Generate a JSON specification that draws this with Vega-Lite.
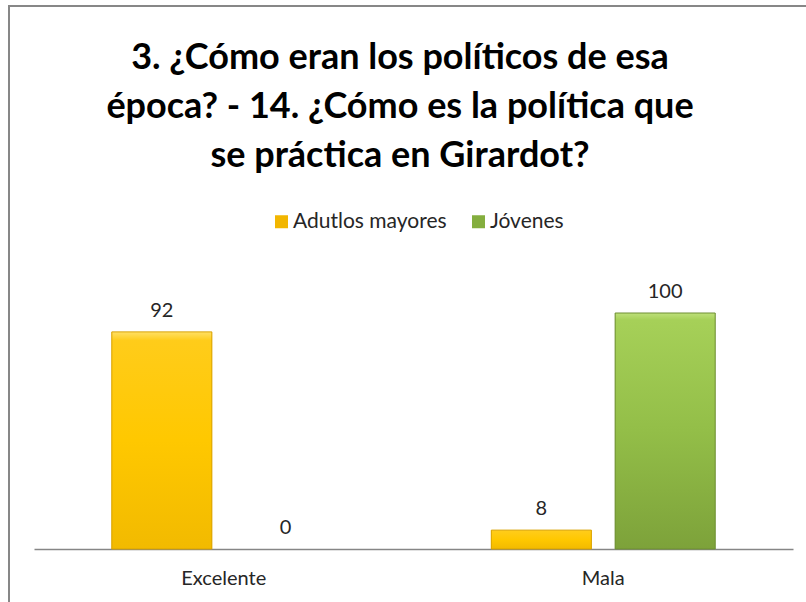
{
  "$schema": "https://vega.github.io/schema/vega-lite/v6.json",
  "autosize": "none",
  "width": 800,
  "height": 600,
  "padding": {"left": 9, "top": 6, "right": 0, "bottom": 0},
  "background": "white",
  "title": {
    "text": ["3. ¿Cómo eran los políticos de esa", "época? - 14. ¿Cómo es la política que", "se práctica en Girardot?"],
    "orient": "top",
    "anchor": "middle",
    "frame": "group",
    "baseline": "top",
    "offset": 0,
    "dy": 169,
    "dx": -9,
    "font": "Lato",
    "fontSize": 36,
    "fontWeight": "bold",
    "color": "#000000",
    "lineHeight": 49
  },
  "data": {
    "values": [
      {"categoria": "Excelente", "grupo": "Adutlos mayores", "valor": 92},
      {"categoria": "Excelente", "grupo": "Jóvenes", "valor": 0},
      {"categoria": "Mala", "grupo": "Adutlos mayores", "valor": 8},
      {"categoria": "Mala", "grupo": "Jóvenes", "valor": 100}
    ]
  },
  "encoding": {
    "x": {
      "field": "categoria",
      "type": "nominal",
      "sort": ["Excelente", "Mala"],
      "scale": {"range": [25, 784], "paddingInner": 0.41, "paddingOuter": 0.205},
      "axis": {
        "title": null,
        "labelAngle": 0,
        "ticks": false,
        "labelFont": "Lato",
        "labelFontSize": 20,
        "labelColor": "#262626",
        "labelPadding": 19,
        "domainColor": "#868686",
        "domainWidth": 1.5,
        "offset": -57,
        "grid": false
      }
    },
    "xOffset": {
      "field": "grupo",
      "type": "nominal",
      "sort": ["Adutlos mayores", "Jóvenes"],
      "scale": {"paddingInner": 0.192, "paddingOuter": 0}
    },
    "y": {
      "field": "valor",
      "type": "quantitative",
      "scale": {"domain": [0, 100], "range": [543, 307], "nice": false, "zero": true},
      "axis": null
    }
  },
  "layer": [
    {
      "mark": {"type": "bar"},
      "encoding": {
        "color": {
          "field": "grupo",
          "type": "nominal",
          "sort": ["Adutlos mayores", "Jóvenes"],
          "scale": {"domain": ["Adutlos mayores", "Jóvenes"], "range": ["#F2B600", "#84AE3E"]},
          "legend": {
            "title": null,
            "orient": "none",
            "legendX": 262,
            "legendY": 205,
            "direction": "horizontal",
            "symbolType": "square",
            "symbolSize": 169,
            "symbolStrokeWidth": 0,
            "labelFont": "Lato",
            "labelFontSize": 21,
            "labelColor": "#262626",
            "columnPadding": 21,
            "labelOffset": 1
          }
        }
      }
    },
    {
      "transform": [{"filter": "datum.grupo === 'Adutlos mayores' && datum.valor > 0"}],
      "mark": {
        "type": "bar",
        "stroke": "#D9A200",
        "strokeWidth": 1,
        "fill": {
          "gradient": "linear", "x1": 0, "y1": 0, "x2": 0, "y2": 1,
          "stops": [
            {"offset": 0, "color": "#FFE066"},
            {"offset": 0.04, "color": "#FFCC1A"},
            {"offset": 0.5, "color": "#FFC800"},
            {"offset": 1, "color": "#F2BA00"}
          ]
        }
      }
    },
    {
      "transform": [{"filter": "datum.grupo === 'Jóvenes' && datum.valor > 0"}],
      "mark": {
        "type": "bar",
        "stroke": "#6E8F33",
        "strokeWidth": 1,
        "fill": {
          "gradient": "linear", "x1": 0, "y1": 0, "x2": 0, "y2": 1,
          "stops": [
            {"offset": 0, "color": "#BEE07A"},
            {"offset": 0.03, "color": "#A6D058"},
            {"offset": 0.5, "color": "#93BE48"},
            {"offset": 1, "color": "#7DA23A"}
          ]
        }
      }
    },
    {
      "mark": {"type": "text", "dy": -21, "font": "Lato", "fontSize": 20, "color": "#262626"},
      "encoding": {"text": {"field": "valor", "type": "quantitative"}}
    }
  ],
  "config": {
    "view": {"stroke": "#878787", "strokeWidth": 2}
  }
}
